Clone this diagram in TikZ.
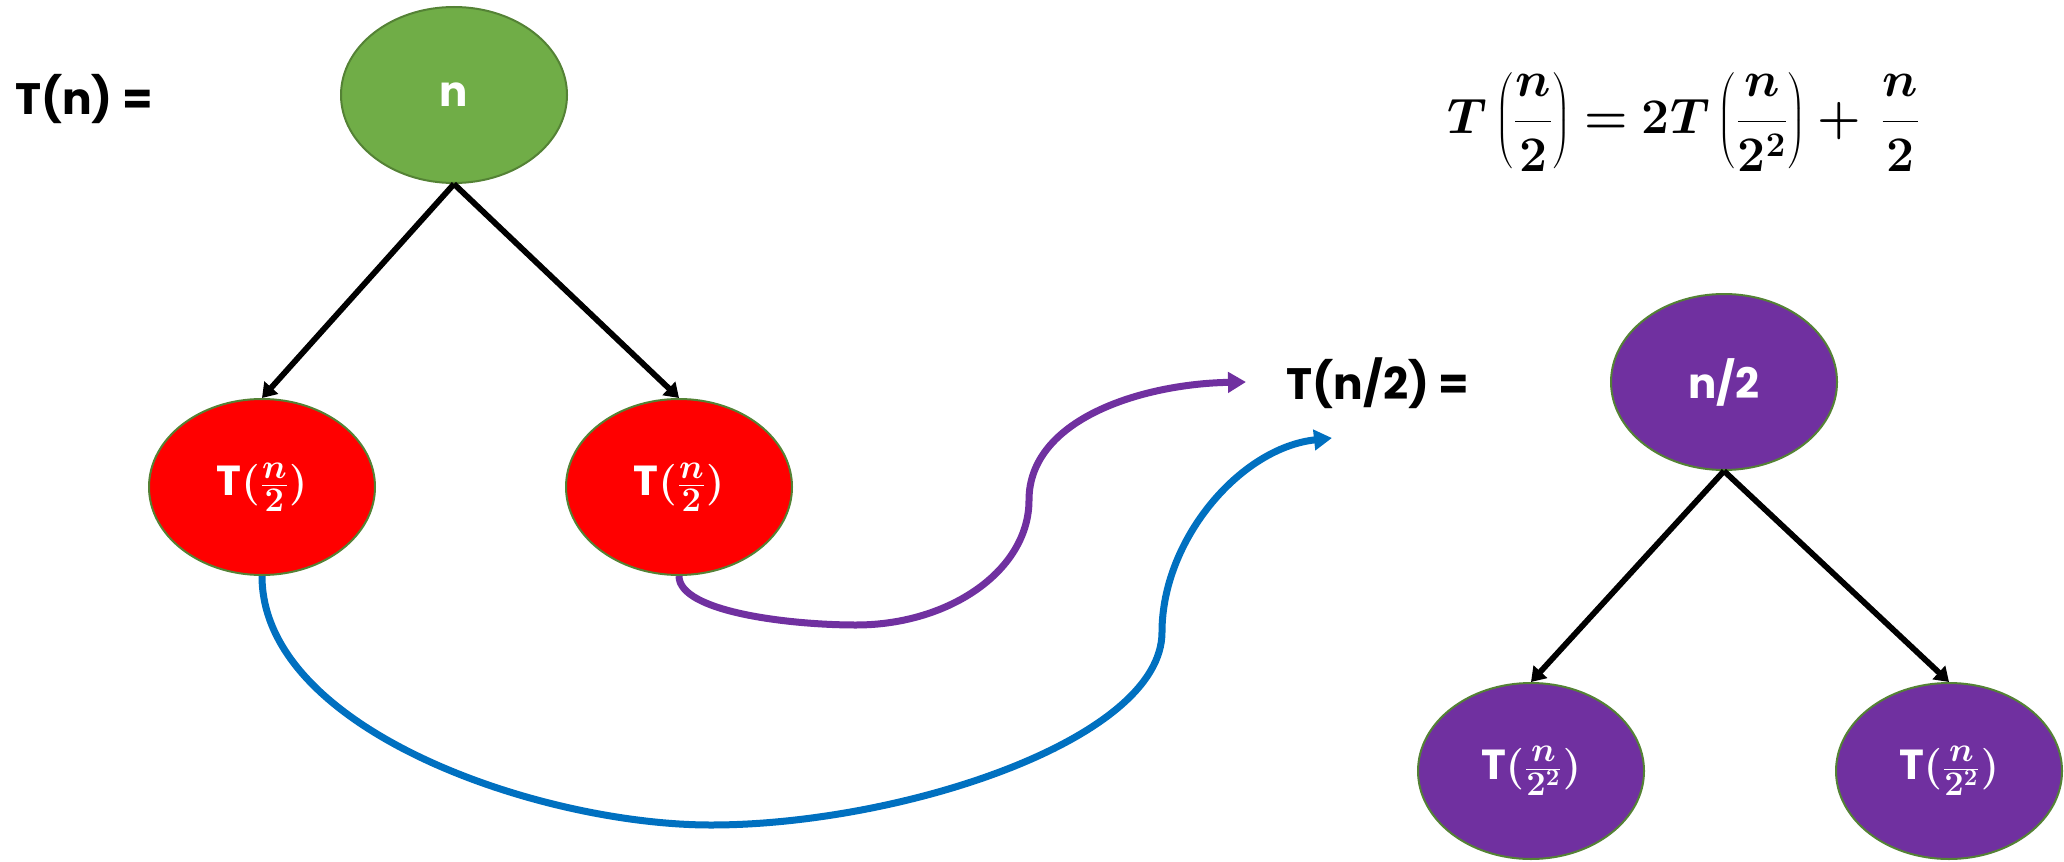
\documentclass[tikz,border=0pt]{standalone}
\usepackage{bm}
\usepackage{fontspec}
\setmainfont{Poppins}
\usetikzlibrary{arrows.meta,shapes.geometric}
\DeclareMathSizes{21}{21}{17}{13}
\definecolor{rootgreen}{HTML}{70AD47}
\definecolor{rimgreen}{HTML}{548235}
\definecolor{callred}{HTML}{FF0000}
\definecolor{callpurple}{HTML}{7030A0}
\definecolor{callblue}{HTML}{0070C0}
\tikzset{
  callnode/.style={ellipse, draw=rimgreen, line width=1pt, minimum width=113pt, minimum height=88pt,
    inner sep=0pt, text=white, font=\bfseries\fontsize{21}{25}\selectfont},
  eqtext/.style={font=\bfseries\fontsize{22}{26}\selectfont},
  childarrow/.style={line width=2.9pt, -{Triangle[length=7pt,width=9pt]}},
  callarrow/.style={line width=3.5pt, -{Triangle[length=9pt,width=10pt]}}
}
\begin{document}
\begin{tikzpicture}[x=0.5pt,y=-0.5pt]
\useasboundingbox (0,0) rectangle (2064,861);
% first level
\node[eqtext] (tn) at (84,99) {T(n) =};
\node[callnode, fill=rootgreen] (root) at (454,95) {n};
\node[callnode, fill=callred] (left) at (262,487) {T$\bm{(\frac{n}{2})}$};
\node[callnode, fill=callred] (right) at (679,487) {T$\bm{(\frac{n}{2})}$};
\draw[childarrow] (root.south) -- (left.north);
\draw[childarrow] (root.south) -- (right.north);
% second level
\node[eqtext] (tnhalf) at (1378,383) {T(n/2) =};
\node[callnode, fill=callpurple] (half) at (1724,382) {n/2};
\node[callnode, fill=callpurple] (qleft) at (1531,771) {T$\bm{(\frac{n}{2^2})}$};
\node[callnode, fill=callpurple] (qright) at (1949,771) {T$\bm{(\frac{n}{2^2})}$};
\draw[childarrow] (half.south) -- (qleft.north);
\draw[childarrow] (half.south) -- (qright.north);
\node[font=\fontsize{23}{27}\selectfont] (rec) at (1684,122)
  {$\displaystyle\bm{T\left(\frac{n}{2}\right) = 2T\left(\frac{n}{2^2}\right) + \,\frac{n}{2}}$};
% both calls lead to T(n/2)
\coordinate (purpleend) at (1246,382);
\coordinate (blueend) at (1332,438);
\draw[callarrow, callpurple] (right.south) .. controls (679,612) and (790,625) .. (856,625)
  .. controls (950,625) and (1029,570) .. (1029,500)
  .. controls (1029,420) and (1140,384) .. (purpleend);
\draw[callarrow, callblue] (left.south) .. controls (262,730) and (540,825) .. (711,825)
  .. controls (900,825) and (1162,740) .. (1162,632)
  .. controls (1162,540) and (1240,448) .. (blueend);
\end{tikzpicture}
\end{document}
